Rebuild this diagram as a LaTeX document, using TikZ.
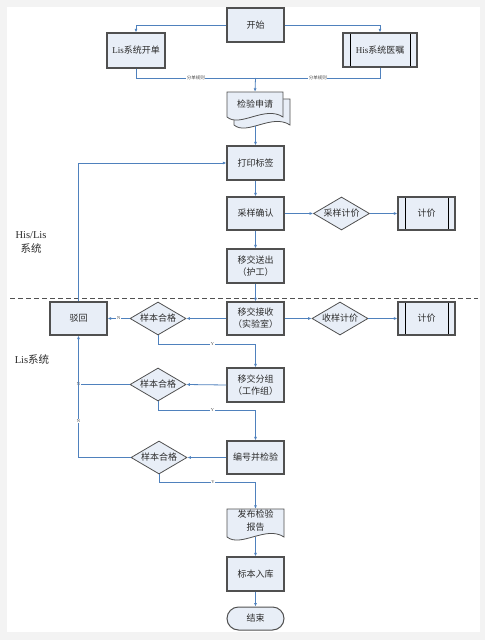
\documentclass[tikz,border=0pt]{standalone}
\usepackage{fontspec}
\setmainfont{Liberation Serif}
\newfontfamily\cjk{Noto Sans CJK SC}
\usetikzlibrary{shapes.geometric,arrows.meta,calc}
\definecolor{bggray}{HTML}{F3F3F3}
\definecolor{boxfill}{HTML}{E8EEF7}
\definecolor{boxline}{HTML}{505050}
\definecolor{conn}{HTML}{4F81BD}
\definecolor{txtcol}{HTML}{2A2A2A}
\begin{document}
\begin{tikzpicture}[x=1pt,y=-1pt,
  box/.style={draw=boxline, fill=boxfill, line width=1.3pt, minimum width=57pt, minimum height=34pt, inner sep=1pt, align=center, text=txtcol, font=\fontsize{9}{12}\selectfont\cjk},
  predef/.style={box, path picture={
      \draw[black,line width=0.8pt] ([xshift=7pt]path picture bounding box.north west) -- ([xshift=7pt]path picture bounding box.south west);
      \draw[black,line width=0.8pt] ([xshift=-7pt]path picture bounding box.north east) -- ([xshift=-7pt]path picture bounding box.south east);}},
  dia/.style={diamond, aspect=1.7, draw=boxline, fill=boxfill, line width=0.8pt, minimum width=56pt, minimum height=33pt, inner sep=0pt, text=txtcol, font=\fontsize{9}{12}\selectfont\cjk},
  docshape/.style={draw=boxline, fill=boxfill, line width=0.8pt},
  txt/.style={inner sep=0pt, align=center, text=txtcol, font=\fontsize{9}{13}\selectfont\cjk},
  side/.style={inner sep=0pt, align=center, text=txtcol, font=\fontsize{10.5}{14}\selectfont},
  arr/.style={draw=conn, line width=0.8pt, -{Latex[length=3.5pt,width=3pt]}},
  ln/.style={draw=conn, line width=0.8pt},
  lbl/.style={font=\fontsize{4.5}{5}\selectfont, fill=white, inner sep=0.6pt, text=black!70}
]
\useasboundingbox (0,0) rectangle (485,640);
\fill[bggray] (0,0) rectangle (485,640);
\fill[white] (7,7) rectangle (480,632);

% top part
\node[box] (start) at (255.5,25) {开始};
\node[box, minimum width=58pt, minimum height=35pt] (lis) at (136,50.5) {{\rmfamily Lis}系统开单};
\node[predef, minimum width=74pt] (his) at (380,50) {{\rmfamily His}系统医嘱};

% multi-document
\filldraw[docshape] (234,99) -- (290,99) -- (290,125) .. controls (272,113) and (247,136) .. (234,125) -- cycle;
\filldraw[docshape] (227,92) -- (283,92) -- (283,117) .. controls (265,105) and (240,128) .. (227,117) -- cycle;
\node[txt, minimum width=56pt, minimum height=24pt] (apply) at (255,104) {检验申请};
\coordinate (applyout) at (255.5,126);
\coordinate (merge) at (255.5,78);

\node[box] (print) at (255.5,163) {打印标签};
\node[box, minimum height=33pt] (confirm) at (255.5,213.5) {采样确认};
\node[dia] (d1) at (341.5,213.5) {采样计价};
\node[predef, minimum height=33pt] (fee1) at (426.5,213.5) {计价};
\node[box] (send) at (255.5,266) {移交送出\\（护工）};

\draw[boxline, line width=1pt, dash pattern=on 5pt off 3pt] (10,298) -- (478,298);

\node[side] (t1) at (31,242) {His/Lis\\{\cjk 系统}};
\node[side] (t2) at (32,359) {Lis{\cjk 系统}};

\node[box, minimum height=33pt] (recv) at (255.5,318.5) {移交接收\\（实验室）};
\node[dia] (q1) at (158,318.5) {样本合格};
\node[box, minimum height=33pt] (reject) at (78.5,318.5) {驳回};
\node[dia] (d2) at (340,318.5) {收样计价};
\node[predef, minimum height=33pt] (fee2) at (426.5,318.5) {计价};

\node[box] (group) at (255.5,385) {移交分组\\（工作组）};
\node[dia] (q2) at (158,384.5) {样本合格};
\node[box, minimum height=33pt] (test) at (255.5,457.5) {编号并检验};
\node[dia] (q3) at (159,457.5) {样本合格};

\filldraw[docshape] (227,509) -- (284,509) -- (284,537) .. controls (266,525) and (241,548) .. (227,537) -- cycle;
\node[txt, minimum width=57pt, minimum height=24pt] (report) at (255.5,521) {发布检验\\报告};
\coordinate (reportout) at (255.5,537);

\node[box] (store) at (255.5,574) {标本入库};
\node[draw=boxline, fill=boxfill, line width=1pt, rounded corners=11.5pt, minimum width=57pt, minimum height=23pt, inner sep=0pt, text=txtcol, font=\fontsize{9}{12}\selectfont\cjk] (end) at (255.5,618.5) {结束};

% connectors
\draw[arr] (start.west) -| (lis.north);
\draw[arr] (start.east) -| (his.north);
\draw[ln] (lis.south) |- node[lbl, pos=0.75] {\cjk 分单规则} (merge);
\draw[ln] (his.south) |- node[lbl, pos=0.75] {\cjk 分单规则} (merge);
\draw[arr] (merge) -- (apply.north);
\draw[arr] (applyout) -- (print.north);
\draw[arr] (print.south) -- (confirm.north);
\draw[arr] (confirm.east) -- (d1.west);
\draw[arr] (d1.east) -- (fee1.west);
\draw[arr] (confirm.south) -- (send.north);
\draw[arr] (send.south) -- (recv.north);
\draw[arr] (recv.west) -- (q1.east);
\draw[arr] (q1.west) -- node[lbl] {N} (reject.east);
\draw[arr] (recv.east) -- (d2.west);
\draw[arr] (d2.east) -- (fee2.west);
\draw[arr] (reject.north) |- (print.west);

\coordinate (y1) at (255.5,344);
\draw[arr] (q1.south) |- node[lbl, pos=0.78] {Y} (y1) -- (group.north);
\draw[arr] (group.west) -- (q2.east);
\draw[ln] (q2.west) -- node[lbl, pos=1] {N} (reject.south |- q2.west);
\coordinate (y2) at (255.5,410);
\draw[arr] (q2.south) |- node[lbl, pos=0.78] {Y} (y2) -- (test.north);
\draw[arr] (test.west) -- (q3.east);
\draw[arr] (q3.west) -| node[lbl, pos=0.65] {N} (reject.south);
\coordinate (y3) at (255.5,482);
\draw[arr] (q3.south) |- node[lbl, pos=0.78] {Y} (y3) -- (report.north);
\draw[arr] (reportout) -- (store.north);
\draw[arr] (store.south) -- (end.north);
\end{tikzpicture}
\end{document}
